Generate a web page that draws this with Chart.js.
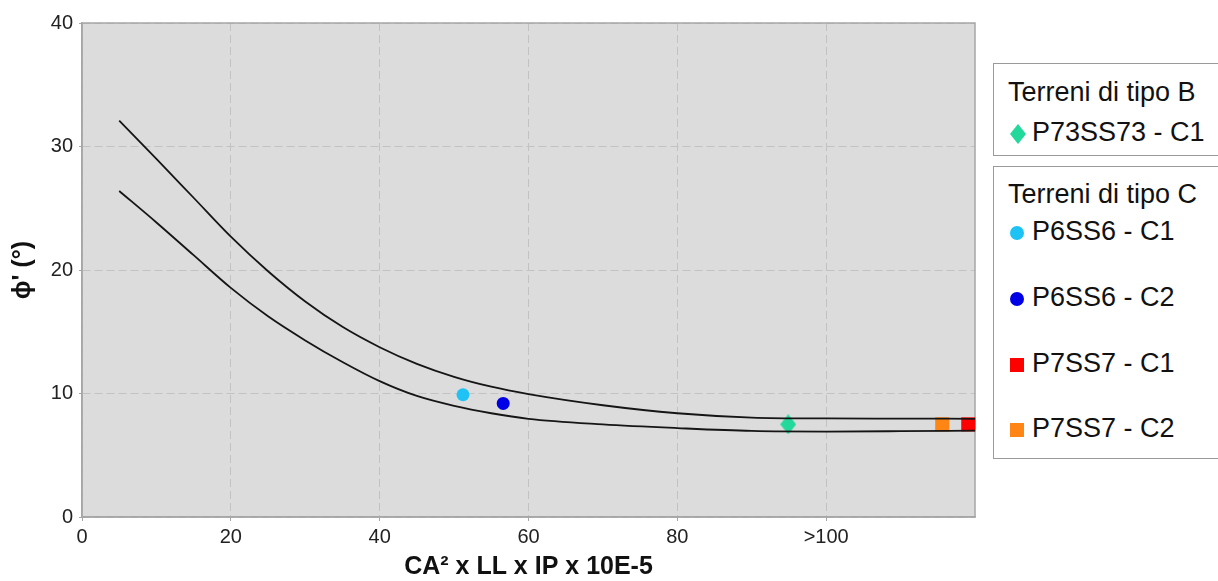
<!DOCTYPE html>
<html>
<head>
<meta charset="utf-8">
<script src="https://cdn.jsdelivr.net/npm/chart.js@4.4.1/dist/chart.umd.min.js"></script>
<style>
  body { margin: 0; background: #fff; font-family: "Liberation Sans", Arial, sans-serif; }
  #wrap { position: relative; width: 1218px; height: 581px; overflow: hidden; }
  .box { position: absolute; left: 993px; width: 260px; border: 1px solid #9a9a9a; background: #fff; }
  .row { position: absolute; left: 0; font-size: 27px; color: #111; white-space: nowrap; line-height: 30px; }
  .row svg { vertical-align: middle; margin-right: 5px; }
</style>
</head>
<body>
<div id="wrap">
  <canvas id="chart" width="1218" height="581"></canvas>
  <div class="box" style="top:63px;height:91px;">
    <div class="row" style="left:14px;top:13px;">Terreni di tipo B</div>
    <div class="row" style="left:15px;top:53px;"><svg width="18" height="22"><polygon points="9,1 17,11 9,21 1,11" fill="#22d89b"/></svg>P73SS73 - C1</div>
  </div>
  <div class="box" style="top:166px;height:291px;">
    <div class="row" style="left:14px;top:12px;">Terreni di tipo C</div>
    <div class="row" style="left:15px;top:49px;"><svg width="18" height="18"><circle cx="8" cy="9" r="7" fill="#1ec2f5"/></svg>P6SS6 - C1</div>
    <div class="row" style="left:15px;top:115px;"><svg width="18" height="18"><circle cx="8" cy="9" r="7" fill="#0000e6"/></svg>P6SS6 - C2</div>
    <div class="row" style="left:15px;top:181px;"><svg width="18" height="18"><rect x="1" y="2" width="14" height="14" fill="#ff0000"/></svg>P7SS7 - C1</div>
    <div class="row" style="left:15px;top:246px;"><svg width="18" height="18"><rect x="1" y="2" width="14" height="14" fill="#ff8614"/></svg>P7SS7 - C2</div>
  </div>
</div>
<script>
// Curve limits (upper / lower)
const upperX = [5, 10, 15, 20, 25, 30, 35, 40, 45, 50, 55, 60, 70, 80, 90, 100, 110, 120];
const upperY = [32.1, 29.0, 25.85, 22.7, 19.9, 17.45, 15.4, 13.75, 12.4, 11.35, 10.55, 9.95, 9.05, 8.4, 8.05, 7.98, 7.97, 7.95];
const lowerX = [5, 10, 15, 20, 25, 30, 35, 40, 45, 50, 55, 60, 70, 80, 90, 100, 110, 120];
const lowerY = [26.4, 23.85, 21.2, 18.55, 16.25, 14.3, 12.55, 11.0, 9.8, 9.0, 8.4, 7.95, 7.5, 7.2, 6.97, 6.92, 6.95, 7.0];

// Samples
const sampleNames = ["P73SS73 - C1", "P6SS6 - C1", "P6SS6 - C2", "P7SS7 - C1", "P7SS7 - C2"];
const sampleX = [94.9, 51.2, 56.6, 119.1, 115.6];
const sampleY = [7.5, 9.9, 9.2, 7.5, 7.5];
const sampleColors = ["#22d89b", "#1ec2f5", "#0000e6", "#ff0000", "#ff8614"];

// Axis ticks
const xTicks = [0, 20, 40, 60, 80, 100];
const xTickLabels = ["0", "20", "40", "60", "80", ">100"];
const yTicks = [0, 10, 20, 30, 40];

function toPoints(xs, ys) {
  return xs.map(function (x, i) { return { x: x, y: ys[i] }; });
}

// tall diamond for the green marker
const diamond = document.createElement("canvas");
diamond.width = 16;
diamond.height = 20;
const dctx = diamond.getContext("2d");
dctx.fillStyle = sampleColors[0];
dctx.beginPath();
dctx.moveTo(8, 0); dctx.lineTo(16, 10); dctx.lineTo(8, 20); dctx.lineTo(0, 10);
dctx.closePath();
dctx.fill();

const markerStyles = [diamond, "circle", "circle", "rect", "rect"];
const markerRadius = [8, 6.5, 6.5, 10, 10];

const plotBg = {
  id: "plotBg",
  beforeDraw(chart) {
    const a = chart.chartArea, ctx = chart.ctx;
    ctx.save();
    ctx.fillStyle = "#dcdcdc";
    ctx.fillRect(a.left, a.top, a.right - a.left, a.bottom - a.top);
    ctx.restore();
  },
  beforeDatasetsDraw(chart) {
    const a = chart.chartArea, ctx = chart.ctx;
    ctx.save();
    ctx.strokeStyle = "#a6a6a6";
    ctx.lineWidth = 1.5;
    ctx.strokeRect(a.left, a.top, a.right - a.left, a.bottom - a.top);
    ctx.restore();
  }
};

const datasets = [
  {
    label: "upper", data: toPoints(upperX, upperY), showLine: true,
    borderColor: "#151515", borderWidth: 1.8, pointRadius: 0,
    cubicInterpolationMode: "monotone"
  },
  {
    label: "lower", data: toPoints(lowerX, lowerY), showLine: true,
    borderColor: "#151515", borderWidth: 1.8, pointRadius: 0,
    cubicInterpolationMode: "monotone"
  }
];
sampleNames.forEach(function (name, i) {
  datasets.push({
    label: name,
    data: [{ x: sampleX[i], y: sampleY[i] }],
    pointStyle: markerStyles[i],
    pointRadius: markerRadius[i],
    backgroundColor: sampleColors[i],
    borderColor: sampleColors[i],
    borderWidth: 0,
    clip: false
  });
});

const font = "'Liberation Sans', Arial, sans-serif";

new Chart(document.getElementById("chart"), {
  type: "scatter",
  data: { datasets: datasets },
  options: {
    responsive: false,
    animation: false,
    layout: { padding: { top: 23, right: 243, bottom: 0, left: 0 } },
    plugins: { legend: { display: false }, tooltip: { enabled: false } },
    scales: {
      x: {
        min: 0, max: 120,
        afterBuildTicks(scale) { scale.ticks = xTicks.map(function (v) { return { value: v }; }); },
        afterFit(scale) { scale.height = 64; },
        ticks: {
          color: "#222", font: { family: font, size: 20 }, padding: 4,
          callback(v) { return xTickLabels[xTicks.indexOf(v)]; }
        },
        grid: { color: "#c2c2c2", borderDash: [8, 4], tickLength: 4, tickColor: "#a6a6a6", tickBorderDash: [] },
        border: { display: true, color: "#a6a6a6", width: 1.5, dash: [8, 4] },
        title: {
          display: true, text: "CA² x LL x IP x 10E-5", color: "#111",
          font: { family: font, size: 25, weight: "bold", lineHeight: 1 },
          padding: { top: 0, bottom: 1 }
        }
      },
      y: {
        min: 0, max: 40,
        afterBuildTicks(scale) { scale.ticks = yTicks.map(function (v) { return { value: v }; }); },
        afterFit(scale) { scale.width = 82; },
        ticks: { color: "#222", font: { family: font, size: 20 }, padding: 6 },
        grid: { color: "#c2c2c2", borderDash: [8, 4], tickLength: 3, tickColor: "#a6a6a6", tickBorderDash: [] },
        border: { display: true, color: "#a6a6a6", width: 1.5, dash: [8, 4] },
        title: {
          display: true, text: "ϕ' (°)", color: "#111",
          font: { family: font, size: 25, weight: "bold", lineHeight: 1.2 },
          padding: { top: 8, bottom: 0 }
        }
      }
    }
  },
  plugins: [plotBg]
});
</script>
</body>
</html>
